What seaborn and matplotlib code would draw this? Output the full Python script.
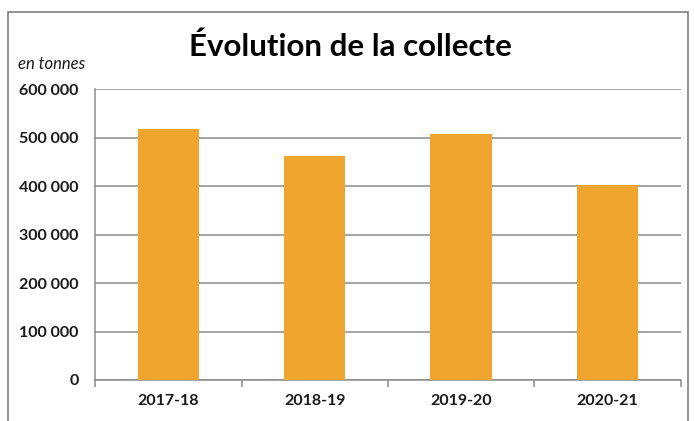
import seaborn as sns
import matplotlib.pyplot as plt
import matplotlib.patches as patches
from matplotlib.ticker import FuncFormatter
import pandas as pd

saisons = ['2017-18', '2018-19', '2019-20', '2020-21']
tonnes = [517500, 462000, 507000, 402000]
yticks = [0, 100000, 200000, 300000, 400000, 500000, 600000]

df = pd.DataFrame({'saison': saisons, 'tonnes': tonnes})

sns.set_theme(style="white")
plt.rcParams['font.family'] = ['Lato', 'DejaVu Sans']

fig = plt.figure(figsize=(6.94, 4.21), dpi=100)
ax = fig.add_axes([0.137, 0.0974, 0.844, 0.691])

sns.barplot(data=df, x='saison', y='tonnes', color='#F0A52E', width=0.42,
            saturation=1, linewidth=0, ax=ax, zorder=3)

ax.set_ylim(0, 600000)
ax.set_xlim(-0.5, 3.5)
ax.set_yticks(yticks)
ax.yaxis.set_major_formatter(FuncFormatter(lambda v, p: f"{int(v):,}".replace(',', ' ')))
ax.grid(axis='y', color='#8c8c8c', linewidth=1.1, zorder=0)
ax.set_xlabel('')
ax.set_ylabel('')

for s in ['top', 'right']:
    ax.spines[s].set_visible(False)
ax.spines['left'].set_color('#8c8c8c')
ax.spines['bottom'].set_color('#8c8c8c')
ax.spines['left'].set_linewidth(1.1)
ax.spines['bottom'].set_linewidth(1.1)

# y ticks outward on the left, x ticks at the category boundaries
ax.tick_params(axis='y', direction='out', length=6, color='#8c8c8c', width=1.1,
               labelsize=11.5, labelcolor='#1a1a1a', pad=6)
ax.set_xticks([0, 1, 2, 3])
ax.set_xticks([-0.5, 0.5, 1.5, 2.5, 3.5], minor=True)
ax.tick_params(axis='x', which='major', length=0, labelsize=11.5,
               labelcolor='#1a1a1a', pad=10)
ax.tick_params(axis='x', which='minor', direction='out', length=5,
               color='#8c8c8c', width=1.1, bottom=True)
for lab in ax.get_yticklabels() + ax.get_xticklabels():
    lab.set_fontweight('bold')

fig.text(0.505, 0.888, 'Évolution de la collecte', ha='center', va='center',
         fontsize=22.5, fontweight='bold', color='black')
fig.text(0.026, 0.848, 'en tonnes', ha='left', va='center', fontsize=12,
         style='italic', color='#1a1a1a')

# frame around the chart
fig.patches.append(patches.Rectangle((0.012, -0.05), 0.979, 1.022,
                                     transform=fig.transFigure, fill=False,
                                     edgecolor='#7f7f7f', linewidth=1.2))

plt.savefig('out.png', dpi=100)
